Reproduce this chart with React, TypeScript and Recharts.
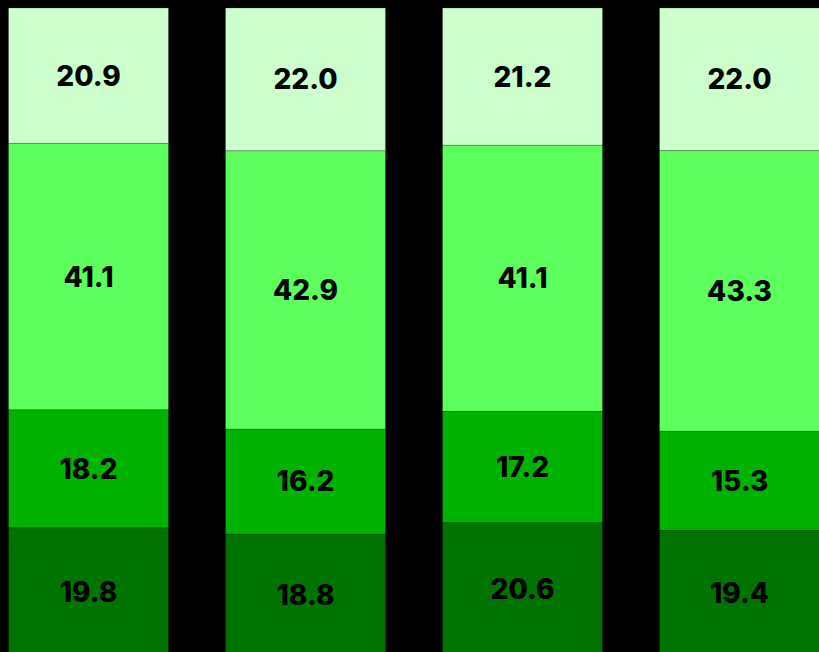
import React from "react";
import { BarChart, Bar, XAxis, YAxis, LabelList } from "recharts";

const categories = ["A", "B", "C", "D"];
const darkValues = [19.8, 18.8, 20.6, 19.4];
const midValues = [18.2, 16.2, 17.2, 15.3];
const lightValues = [41.1, 42.9, 41.1, 43.3];
const paleValues = [20.9, 22.0, 21.2, 22.0];

const data = categories.map((c, i) => ({
  name: c,
  dark: darkValues[i],
  mid: midValues[i],
  light: lightValues[i],
  pale: paleValues[i],
}));

const series = [
  { key: "dark", color: "#007300" },
  { key: "mid", color: "#00b300" },
  { key: "light", color: "#5cff5c" },
  { key: "pale", color: "#ccffcc" },
];

const fmt = (v: any) => Number(v).toFixed(1);

export default function App() {
  return (
    <div style={{ position: "fixed", inset: 0, background: "#000", overflow: "hidden" }}>
      <div style={{ position: "absolute", top: 8, left: 8 - 28.5 }}>
        <BarChart
          width={868}
          height={648}
          data={data}
          stackOffset="expand"
          barCategoryGap={28.5}
          margin={{ top: 0, right: 0, bottom: 0, left: 0 }}
        >
          <XAxis dataKey="name" hide />
          <YAxis hide domain={[0, 1]} />
          {series.map((s) => (
            <Bar
              key={s.key}
              dataKey={s.key}
              stackId="a"
              fill={s.color}
              stroke="rgba(0,0,0,0.2)"
              strokeWidth={1}
              isAnimationActive={false}
            >
              <LabelList
                dataKey={s.key}
                position="center"
                formatter={fmt}
                fill="#000"
                style={{ fontFamily: "Inter", fontWeight: 800, fontSize: 28 }}
              />
            </Bar>
          ))}
        </BarChart>
      </div>
    </div>
  );
}
